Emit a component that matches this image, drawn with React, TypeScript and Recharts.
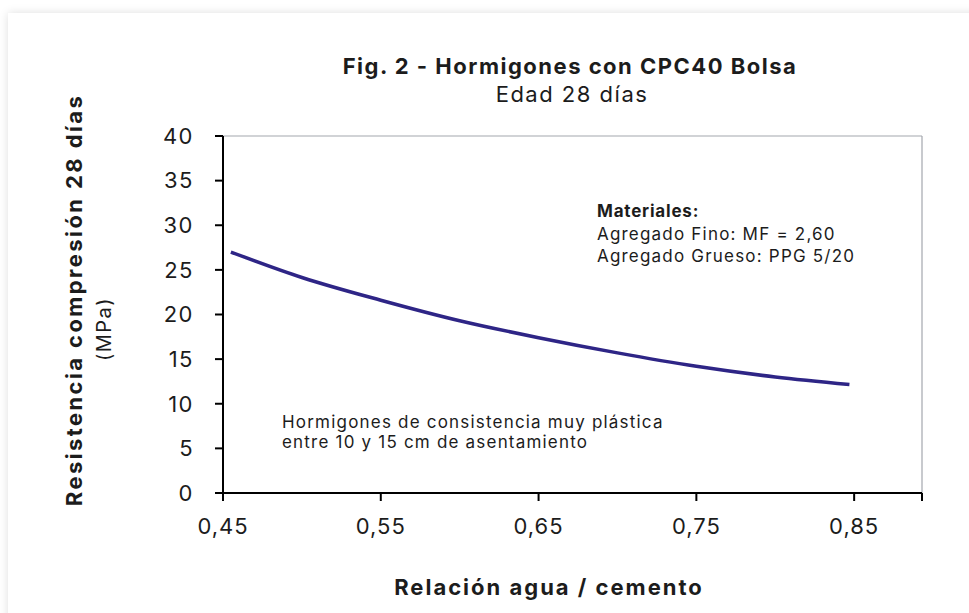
import React from "react";
import { LineChart, Line, XAxis, YAxis, ReferenceLine } from "recharts";

const ratios = [0.455, 0.5, 0.55, 0.6, 0.65, 0.7, 0.75, 0.8, 0.847];
const strength = [27.0, 24.15, 21.6, 19.3, 17.4, 15.7, 14.2, 13.0, 12.15];
const xTicks = [0.45, 0.55, 0.65, 0.75, 0.85, 0.893];
const yTicks = [0, 5, 10, 15, 20, 25, 30, 35, 40];

const data = ratios.map((x, i) => ({ x, y: strength[i] }));

const FONT = "Inter, 'Open Sans', sans-serif";
const INK = "#1c1c1c";

export default function App() {
  return (
    <div style={{ position: "fixed", left: 0, top: 0, width: 969, height: 613, overflow: "hidden", background: "#fff" }}>
      <div
        style={{
          position: "absolute",
          left: 8,
          top: 13,
          width: 1000,
          height: 700,
          background: "#fff",
          boxShadow: "0 0 9px rgba(0,0,0,0.13)",
        }}
      />
      <div style={{ position: "absolute", left: 0, top: 0 }}>
        <LineChart width={969} height={613} data={data} margin={{ top: 136, right: 47, bottom: 60, left: 143 }}>
          <XAxis
            type="number"
            dataKey="x"
            domain={[0.45, 0.893]}
            ticks={xTicks}
            allowDataOverflow
            tickFormatter={(v: number) => (v > 0.88 ? "" : v.toFixed(2).replace(".", ","))}
            height={60}
            tickSize={8}
            tickMargin={17}
            axisLine={{ stroke: "#000", strokeWidth: 2 }}
            tickLine={{ stroke: "#000", strokeWidth: 2 }}
            tick={{ fill: INK, fontSize: 22, fontFamily: FONT, letterSpacing: 1 }}
          />
          <YAxis
            type="number"
            domain={[0, 40]}
            ticks={yTicks}
            width={80}
            tickSize={8}
            tickMargin={21}
            axisLine={{ stroke: "#000", strokeWidth: 2 }}
            tickLine={{ stroke: "#000", strokeWidth: 2 }}
            tick={{ fill: INK, fontSize: 22, fontFamily: FONT, letterSpacing: 1.5 }}
          />
          <ReferenceLine y={40} stroke="#a3a7ae" strokeWidth={1.2} />
          <ReferenceLine x={0.893} stroke="#a3a7ae" strokeWidth={1.2} />
          <Line
            type="monotone"
            dataKey="y"
            stroke="#2e2586"
            strokeWidth={3.5}
            dot={false}
            isAnimationActive={false}
          />
        </LineChart>
      </div>
      <svg width={969} height={613} style={{ position: "absolute", left: 0, top: 0, pointerEvents: "none" }}>
        <g fontFamily={FONT} fill={INK}>
          <text x={570} y={74} textAnchor="middle" fontSize={22} fontWeight={700} letterSpacing={1.5}>
            Fig. 2 - Hormigones con CPC40 Bolsa
          </text>
          <text x={572} y={102} textAnchor="middle" fontSize={22} letterSpacing={1.5}>
            Edad 28 días
          </text>
          <text transform="translate(82,300) rotate(-90)" textAnchor="middle" fontSize={22} fontWeight={700} letterSpacing={2.4}>
            Resistencia compresión 28 días
          </text>
          <text transform="translate(111,329) rotate(-90)" textAnchor="middle" fontSize={20} letterSpacing={1.5}>
            (MPa)
          </text>
          <text x={549} y={595} textAnchor="middle" fontSize={22} fontWeight={700} letterSpacing={2}>
            Relación agua / cemento
          </text>
          <g fontSize={17} letterSpacing={1.2}>
            <text x={282} y={428}>Hormigones de consistencia muy plástica</text>
            <text x={282} y={448}>entre 10 y 15 cm de asentamiento</text>
            <text x={597} y={217} fontWeight={700} letterSpacing={0.8}>
              Materiales:
            </text>
            <text x={597} y={240}>Agregado Fino: MF = 2,60</text>
            <text x={597} y={262}>Agregado Grueso: PPG 5/20</text>
          </g>
        </g>
      </svg>
    </div>
  );
}
